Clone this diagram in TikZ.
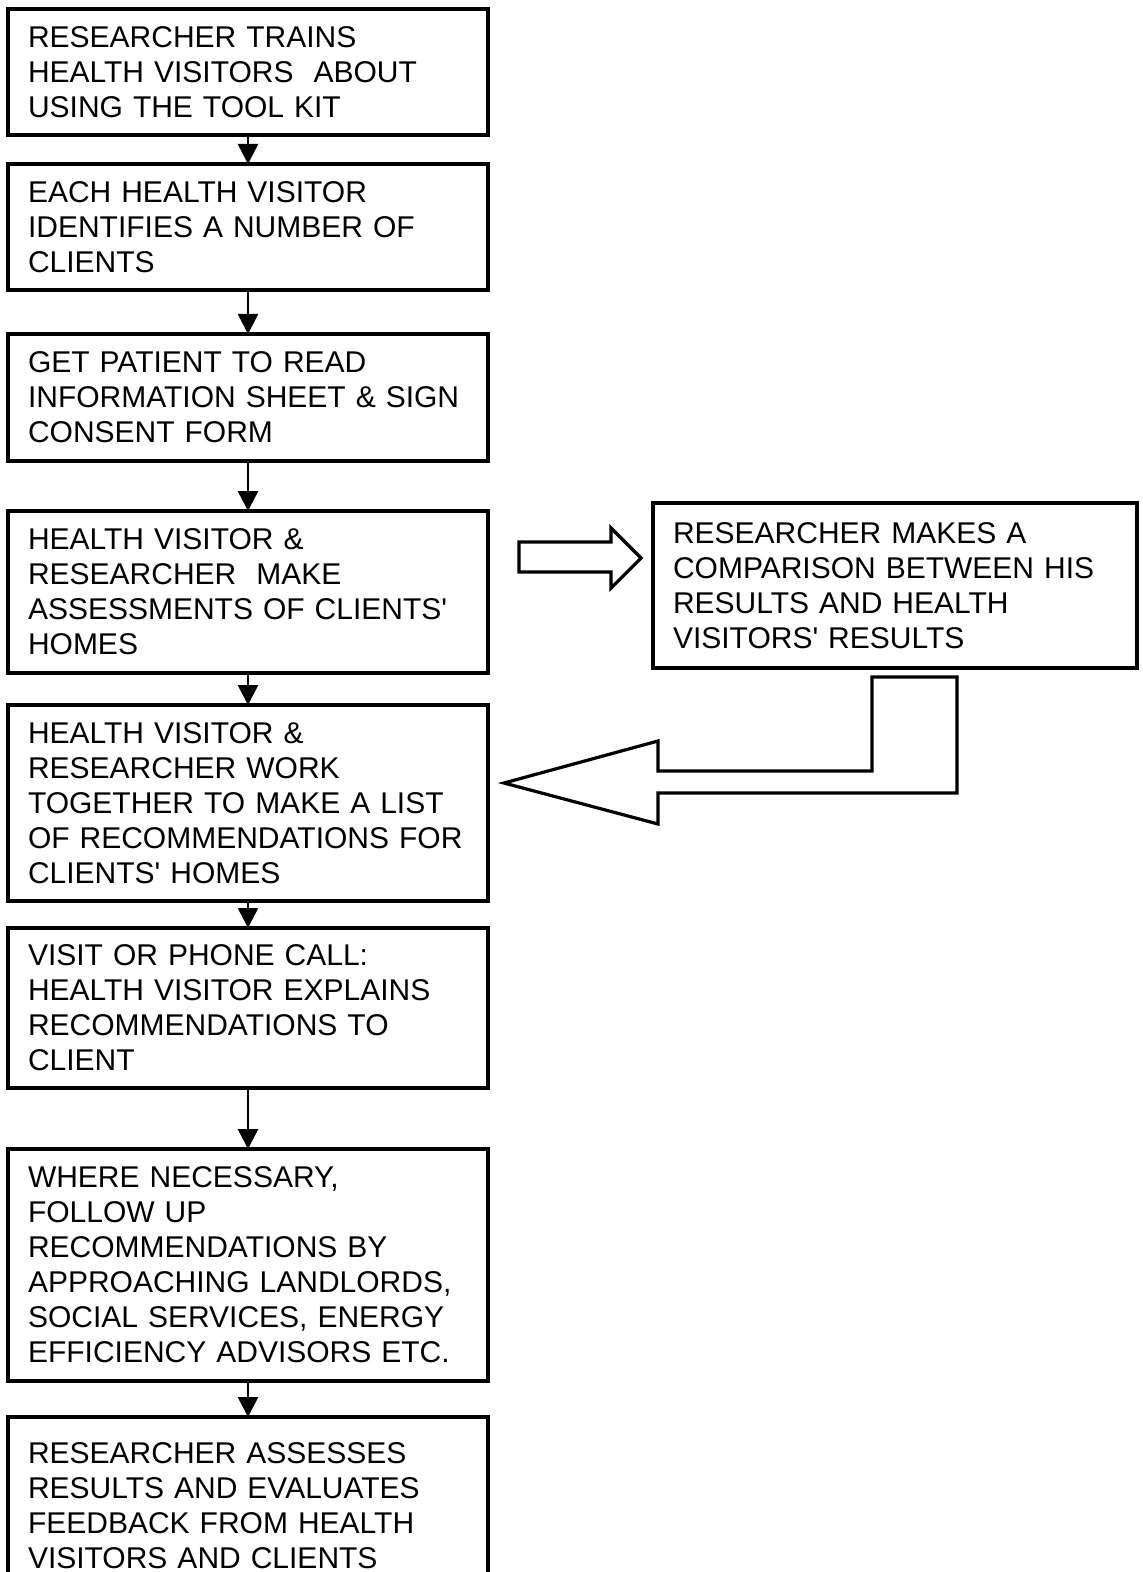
\documentclass[tikz,border=0pt]{standalone}
\usepackage{fontspec}
\setmainfont{Liberation Sans}
\usepackage{tikz}
\usetikzlibrary{positioning}
\usetikzlibrary{arrows.meta}
\newcommand{\apos}{\textquotesingle}
\tikzset{
    stage/.style = {rectangle, draw, line width=1.6pt, align=left, inner xsep=10pt, inner ysep=0pt,
        outer sep=0pt, text width=220pt, anchor=north west, font=\fontsize{15}{17.5}\selectfont},
    hollow/.style = {draw, line width=1.6pt, line join=miter}}
\begin{document}
\begin{tikzpicture}[x=0.5pt, y=-0.5pt,
    flow/.style = {-{Triangle[width=10pt,length=10pt]}, line width=1.3pt}
    ]
    \useasboundingbox (0,0) rectangle (1142,1572);
    \node (b1) [stage, minimum height=63pt] at (8,9)
        {RESEARCHER TRAINS\\HEALTH VISITORS \ ABOUT\\USING THE TOOL KIT};
    \node (b2) [stage, minimum height=63pt, below=14.5pt of b1.south west, anchor=north west]
        {EACH HEALTH VISITOR\\IDENTIFIES A NUMBER OF\\CLIENTS};
    \node (b3) [stage, minimum height=63.5pt, below=22pt of b2.south west, anchor=north west]
        {GET PATIENT TO READ\\INFORMATION SHEET \& SIGN\\CONSENT FORM};
    \node (b4) [stage, minimum height=81pt, below=25pt of b3.south west, anchor=north west]
        {HEALTH VISITOR \&\\RESEARCHER \ MAKE\\ASSESSMENTS OF CLIENTS\apos\\HOMES};
    \node (b5) [stage, minimum height=98pt, below=16pt of b4.south west, anchor=north west]
        {HEALTH VISITOR \&\\RESEARCHER WORK\\TOGETHER TO MAKE A LIST\\OF RECOMMENDATIONS FOR\\CLIENTS\apos\ HOMES};
    \node (b6) [stage, minimum height=80pt, below=13.5pt of b5.south west, anchor=north west]
        {VISIT OR PHONE CALL:\\HEALTH VISITOR EXPLAINS\\RECOMMENDATIONS TO\\CLIENT};
    \node (b7) [stage, minimum height=116pt, below=30.5pt of b6.south west, anchor=north west]
        {WHERE NECESSARY,\\FOLLOW UP\\RECOMMENDATIONS BY\\APPROACHING LANDLORDS,\\SOCIAL SERVICES, ENERGY\\EFFICIENCY ADVISORS ETC.};
    \node (b8) [stage, minimum height=89pt, below=18pt of b7.south west, anchor=north west]
        {RESEARCHER ASSESSES\\RESULTS AND EVALUATES\\FEEDBACK FROM HEALTH\\VISITORS AND CLIENTS};
    \node (cmp) [stage, text width=222pt, minimum height=82.5pt,
        above right=4pt and 82.5pt of b4.north east, anchor=north west]
        {RESEARCHER MAKES A\\COMPARISON BETWEEN HIS\\RESULTS AND HEALTH\\VISITORS\apos\ RESULTS};
    \draw[flow] (b1) -- (b2);
    \draw[flow] (b2) -- (b3);
    \draw[flow] (b3) -- (b4);
    \draw[flow] (b4) -- (b5);
    \draw[flow] (b5) -- (b6);
    \draw[flow] (b6) -- (b7);
    \draw[flow] (b7) -- (b8);
    \draw[hollow] (519,542) -- (611,542) -- (611,528) -- (641,558) -- (611,588) -- (611,572) -- (519,572) -- cycle;
    \draw[hollow] (872,677) -- (957,677) -- (957,793) -- (658,793) -- (658,824)
        -- (504,783) -- (658,741) -- (658,771) -- (872,771) -- cycle;
\end{tikzpicture}
\end{document}
